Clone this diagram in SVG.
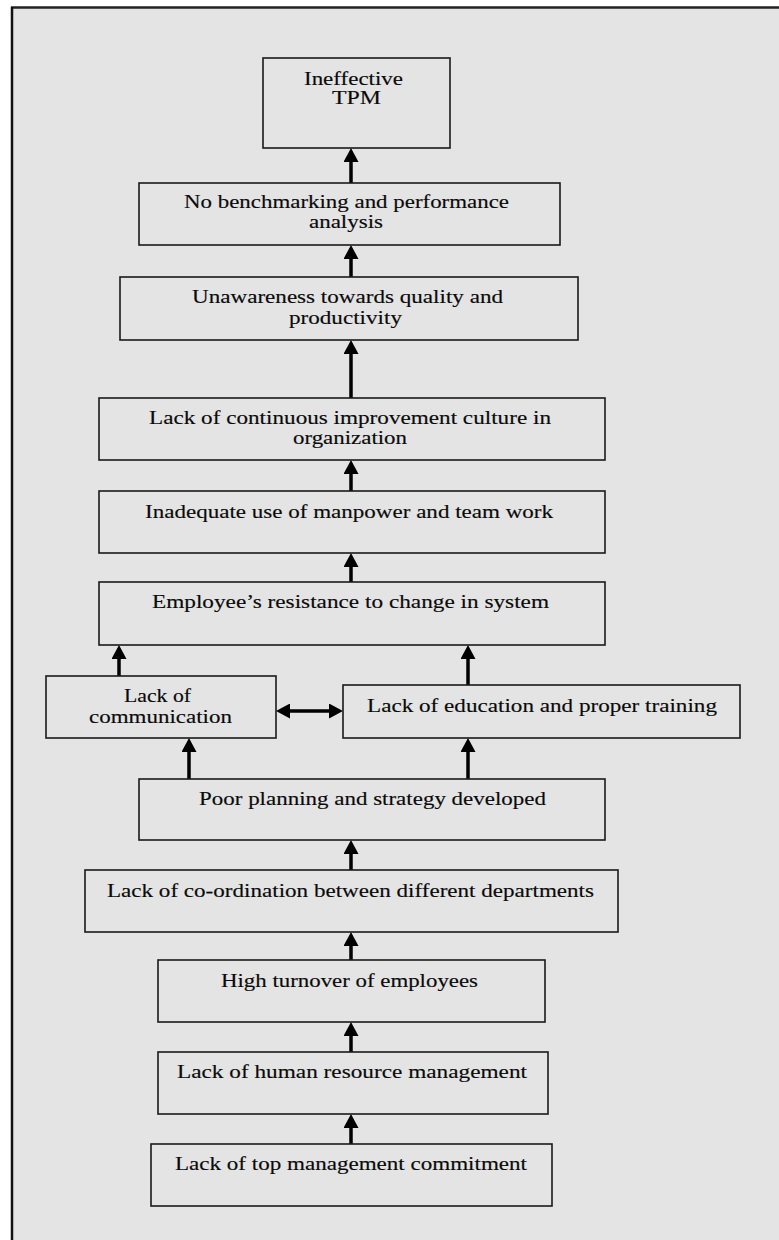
<svg xmlns="http://www.w3.org/2000/svg" width="779" height="1240" viewBox="0 0 779 1240">
  <style>
    .box { fill: none; stroke: #1a1a1a; stroke-width: 1.6; }
    .t { font-family: "Liberation Serif", "Times New Roman", serif; font-size: 18.5px; fill: #0a0a0a; stroke: #0a0a0a; stroke-width: 0.15; }
    .arr { stroke: #000; stroke-width: 3.5; fill: none; }
  </style>
  <defs>
    <marker id="ah" markerUnits="userSpaceOnUse" markerWidth="15" markerHeight="15" refX="6" refY="7.5" orient="auto-start-reverse" viewBox="0 0 15 15">
      <path d="M0,0 L14,7.5 L0,15 Z" fill="#000"/>
    </marker>
  </defs>
  <rect x="0" y="0" width="779" height="1240" fill="#ffffff"/>
  <rect x="12" y="7" width="767" height="1233" fill="#e4e4e4"/>
  <g id="frame">
    <line x1="11" y1="7.5" x2="779" y2="7.5" stroke="#222" stroke-width="2.5"/>
    <line x1="12" y1="7" x2="12" y2="1240" stroke="#111" stroke-width="2.5"/>
  </g>

  <g id="connectors">
    <line class="arr" x1="351" y1="183" x2="351" y2="156" marker-end="url(#ah)"/>
    <line class="arr" x1="351" y1="277" x2="351" y2="253" marker-end="url(#ah)"/>
    <line class="arr" x1="351" y1="398" x2="351" y2="348" marker-end="url(#ah)"/>
    <line class="arr" x1="351" y1="491" x2="351" y2="468" marker-end="url(#ah)"/>
    <line class="arr" x1="351" y1="582" x2="351" y2="561" marker-end="url(#ah)"/>
    <line class="arr" x1="119" y1="676" x2="119" y2="653" marker-end="url(#ah)"/>
    <line class="arr" x1="468" y1="685" x2="468" y2="653" marker-end="url(#ah)"/>
    <line class="arr" x1="284" y1="711" x2="335" y2="711" marker-start="url(#ah)" marker-end="url(#ah)"/>
    <line class="arr" x1="189" y1="779" x2="189" y2="746" marker-end="url(#ah)"/>
    <line class="arr" x1="468" y1="779" x2="468" y2="746" marker-end="url(#ah)"/>
    <line class="arr" x1="351" y1="870" x2="351" y2="848" marker-end="url(#ah)"/>
    <line class="arr" x1="351" y1="960" x2="351" y2="940" marker-end="url(#ah)"/>
    <line class="arr" x1="351" y1="1052" x2="351" y2="1030" marker-end="url(#ah)"/>
    <line class="arr" x1="351" y1="1144" x2="351" y2="1122" marker-end="url(#ah)"/>
  </g>

  <g id="n1">
    <rect class="box" x="263" y="58" width="187" height="90"/>
    <text class="t" x="304" y="85" textLength="99" lengthAdjust="spacingAndGlyphs">Ineffective</text>
    <text class="t" x="332" y="104" textLength="49" lengthAdjust="spacingAndGlyphs">TPM</text>
  </g>
  <g id="n2">
    <rect class="box" x="139" y="183" width="421" height="62"/>
    <text class="t" x="184" y="208" textLength="325" lengthAdjust="spacingAndGlyphs">No benchmarking and performance</text>
    <text class="t" x="309" y="228" textLength="74" lengthAdjust="spacingAndGlyphs">analysis</text>
  </g>
  <g id="n3">
    <rect class="box" x="120" y="277" width="458" height="63"/>
    <text class="t" x="192" y="303" textLength="311" lengthAdjust="spacingAndGlyphs">Unawareness towards quality and</text>
    <text class="t" x="289" y="324" textLength="113" lengthAdjust="spacingAndGlyphs">productivity</text>
  </g>
  <g id="n4">
    <rect class="box" x="99" y="398" width="506" height="62"/>
    <text class="t" x="149" y="424" textLength="402" lengthAdjust="spacingAndGlyphs">Lack of continuous improvement culture in</text>
    <text class="t" x="293" y="444" textLength="114" lengthAdjust="spacingAndGlyphs">organization</text>
  </g>
  <g id="n5">
    <rect class="box" x="99" y="491" width="506" height="62"/>
    <text class="t" x="145" y="518" textLength="408" lengthAdjust="spacingAndGlyphs">Inadequate use of manpower and team work</text>
  </g>
  <g id="n6">
    <rect class="box" x="99" y="582" width="506" height="63"/>
    <text class="t" x="152" y="608" textLength="397" lengthAdjust="spacingAndGlyphs">Employee’s resistance to change in system</text>
  </g>
  <g id="n7">
    <rect class="box" x="46" y="676" width="230" height="62"/>
    <text class="t" x="124" y="702" textLength="67" lengthAdjust="spacingAndGlyphs">Lack of</text>
    <text class="t" x="89" y="723" textLength="143" lengthAdjust="spacingAndGlyphs">communication</text>
  </g>
  <g id="n8">
    <rect class="box" x="343" y="685" width="397" height="53"/>
    <text class="t" x="367" y="712" textLength="350" lengthAdjust="spacingAndGlyphs">Lack of education and proper training</text>
  </g>
  <g id="n9">
    <rect class="box" x="139" y="779" width="466" height="61"/>
    <text class="t" x="199" y="805" textLength="347" lengthAdjust="spacingAndGlyphs">Poor planning and strategy developed</text>
  </g>
  <g id="n10">
    <rect class="box" x="85" y="870" width="533" height="62"/>
    <text class="t" x="107" y="897" textLength="487" lengthAdjust="spacingAndGlyphs">Lack of co-ordination between different departments</text>
  </g>
  <g id="n11">
    <rect class="box" x="158" y="960" width="387" height="62"/>
    <text class="t" x="221" y="987" textLength="257" lengthAdjust="spacingAndGlyphs">High turnover of employees</text>
  </g>
  <g id="n12">
    <rect class="box" x="158" y="1052" width="390" height="62"/>
    <text class="t" x="177" y="1078" textLength="350" lengthAdjust="spacingAndGlyphs">Lack of human resource management</text>
  </g>
  <g id="n13">
    <rect class="box" x="151" y="1144" width="401" height="62"/>
    <text class="t" x="175" y="1170" textLength="352" lengthAdjust="spacingAndGlyphs">Lack of top management commitment</text>
  </g>
</svg>
